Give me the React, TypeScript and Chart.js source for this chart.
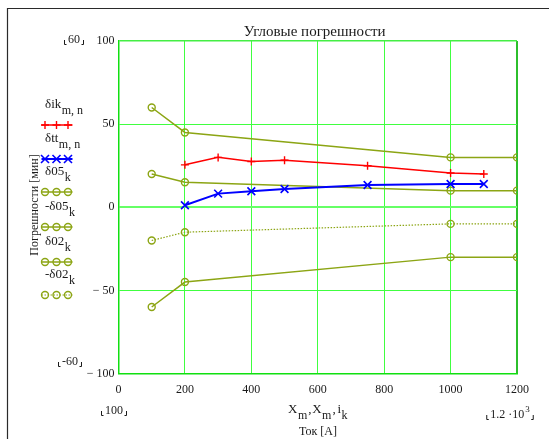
import React, { useEffect, useRef } from 'react';
import { Chart, registerables } from 'chart.js';

Chart.register(...registerables);

// ---- data ----
const measCurrents = [200, 300, 400, 500, 750, 1000, 1100];
const dIk = [25.5, 30, 27.5, 28.3, 25, 20.6, 20];
const dTt = [1.2, 8.2, 9.6, 11, 13.4, 14, 14];
const limitCurrents = [100, 200, 1000, 1200];
const d05Upper = [60, 45, 30, 30];
const d05Lower = [-60, -45, -30, -30];
const d02Upper = [20, 15, 10, 10];
const d02Lower = [-20, -15, -10, -10];
const xTicks = [0, 200, 400, 600, 800, 1000, 1200];
const yTicks = [-100, -50, 0, 50, 100];

const SERIF = '"Liberation Serif", "Times New Roman", serif';
const RED = '#ff0000';
const BLUE = '#0000ff';
const OLIVE = '#8ca514';
const TEXT = '#1a1a1a';

type LegendItem = { main: string; sub: string; color: string; kind: 'plus' | 'x' | 'circle'; dotted?: boolean; width: number };
const legendItems: LegendItem[] = [
  { main: 'δik', sub: 'm, n', color: RED, kind: 'plus', width: 1.5 },
  { main: 'δtt', sub: 'm, n', color: BLUE, kind: 'x', width: 2 },
  { main: 'δ05', sub: 'k', color: OLIVE, kind: 'circle', width: 1.5 },
  { main: '-δ05', sub: 'k', color: OLIVE, kind: 'circle', width: 1.5 },
  { main: 'δ02', sub: 'k', color: OLIVE, kind: 'circle', width: 1.5 },
  { main: '-δ02', sub: 'k', color: OLIVE, kind: 'circle', dotted: true, width: 1.2 },
];

function pts(xs: number[], ys: number[]) {
  return xs.map((x, i) => ({ x, y: ys[i] }));
}

function drawMarker(ctx: CanvasRenderingContext2D, kind: string, x: number, y: number, color: string) {
  ctx.save();
  ctx.strokeStyle = color;
  ctx.lineWidth = kind === 'x' ? 1.6 : 1.4;
  ctx.beginPath();
  if (kind === 'plus') {
    ctx.moveTo(x - 4, y); ctx.lineTo(x + 4, y);
    ctx.moveTo(x, y - 4); ctx.lineTo(x, y + 4);
  } else if (kind === 'x') {
    ctx.moveTo(x - 4, y - 4); ctx.lineTo(x + 4, y + 4);
    ctx.moveTo(x + 4, y - 4); ctx.lineTo(x - 4, y + 4);
  } else {
    ctx.arc(x, y, 3.5, 0, Math.PI * 2);
  }
  ctx.stroke();
  ctx.restore();
}

function textWithSub(ctx: CanvasRenderingContext2D, x: number, y: number, main: string, sub: string, size = 13) {
  ctx.font = `${size}px ${SERIF}`;
  ctx.fillText(main, x, y);
  const w = ctx.measureText(main).width;
  ctx.font = `${size - 1}px ${SERIF}`;
  ctx.fillText(sub, x + w + 0.5, y + 6);
  return w + 0.5 + ctx.measureText(sub).width;
}

function rangeLabel(ctx: CanvasRenderingContext2D, cx: number, baseline: number, text: string, sup?: string) {
  ctx.font = `12px ${SERIF}`;
  const w1 = ctx.measureText(text).width;
  ctx.font = `9px ${SERIF}`;
  const w2 = sup ? ctx.measureText(sup).width + 1 : 0;
  const w = w1 + w2;
  const x0 = cx - w / 2;
  ctx.textAlign = 'left';
  ctx.font = `12px ${SERIF}`;
  ctx.fillText(text, x0, baseline);
  if (sup) {
    ctx.font = `9px ${SERIF}`;
    ctx.fillText(sup, x0 + w1 + 1, baseline - 6);
  }
  ctx.save();
  ctx.strokeStyle = TEXT;
  ctx.lineWidth = 1;
  ctx.beginPath();
  const l = x0 - 3.5;
  ctx.moveTo(l, baseline - 3); ctx.lineTo(l, baseline + 1.5); ctx.lineTo(l + 2, baseline + 1.5);
  const r = x0 + w + 3.5;
  ctx.moveTo(r - 2, baseline + 1.5); ctx.lineTo(r, baseline + 1.5); ctx.lineTo(r, baseline - 3);
  ctx.stroke();
  ctx.restore();
}

const decorPlugin = {
  id: 'decor',
  afterDraw(chart: any) {
    const ctx: CanvasRenderingContext2D = chart.ctx;
    const area = chart.chartArea;
    ctx.save();
    // outer frame
    ctx.strokeStyle = '#2a2a2a';
    ctx.lineWidth = 1.2;
    ctx.beginPath();
    ctx.moveTo(7.5, 439);
    ctx.lineTo(7.5, 8.5);
    ctx.lineTo(549, 8.5);
    ctx.stroke();

    ctx.fillStyle = TEXT;
    ctx.textBaseline = 'alphabetic';

    // title
    ctx.font = `15px ${SERIF}`;
    ctx.textAlign = 'center';
    ctx.fillText('Угловые погрешности', (area.left + area.right) / 2 - 3, 36);

    // y axis title
    ctx.save();
    ctx.translate(38, 205);
    ctx.rotate(-Math.PI / 2);
    ctx.font = `12px ${SERIF}`;
    ctx.textAlign = 'center';
    ctx.fillText('Погрешности [мин]', 0, 0);
    ctx.restore();

    // x axis titles
    ctx.textAlign = 'left';
    const by = 413;
    let x = 288;
    x += textWithSub(ctx, x, by, 'X', 'm');
    ctx.font = `13px ${SERIF}`;
    ctx.fillText(',', x + 1, by); x += 5;
    x += textWithSub(ctx, x, by, 'X', 'm');
    ctx.font = `13px ${SERIF}`;
    ctx.fillText(',', x + 1, by); x += 5;
    textWithSub(ctx, x + 1, by, 'i', 'k');
    ctx.font = `12px ${SERIF}`;
    ctx.textAlign = 'center';
    ctx.fillText('Ток [А]', 318, 435);

    // range labels
    rangeLabel(ctx, 74, 43, '60');
    rangeLabel(ctx, 70, 365, '-60');
    rangeLabel(ctx, 114, 414, '100');
    rangeLabel(ctx, 510, 418, '1.2 ·10', '3');

    // legend
    const markerYs = [125, 159, 192, 227, 262, 295];
    legendItems.forEach((it, i) => {
      const my = markerYs[i];
      ctx.fillStyle = TEXT;
      ctx.textAlign = 'left';
      textWithSub(ctx, 45, my - 17, it.main, it.sub);
      ctx.save();
      ctx.strokeStyle = it.color;
      ctx.lineWidth = it.width;
      if (it.dotted) ctx.setLineDash([1.5, 1.5]);
      ctx.beginPath();
      ctx.moveTo(41.5, my);
      ctx.lineTo(72.5, my);
      ctx.stroke();
      ctx.restore();
      [45, 56.5, 68].forEach((mx) => drawMarker(ctx, it.kind, mx, my, it.color));
    });
    ctx.restore();
  },
};

export default function App() {
  const ref = useRef<HTMLCanvasElement | null>(null);
  useEffect(() => {
    if (!ref.current) return;
    const olive = (data: number[], dotted = false) => ({
      data: pts(limitCurrents, data),
      showLine: true,
      borderColor: OLIVE,
      backgroundColor: 'rgba(0,0,0,0)',
      borderWidth: dotted ? 1.2 : 1.5,
      borderDash: dotted ? [1.5, 1.5] : [],
      pointStyle: 'circle',
      pointRadius: 3.5,
      pointBorderWidth: 1.4,
      pointBorderColor: OLIVE,
      pointBackgroundColor: 'rgba(0,0,0,0)',
    });
    const chart = new Chart(ref.current, {
      type: 'scatter',
      data: {
        datasets: [
          {
            label: 'δik',
            data: pts(measCurrents, dIk),
            showLine: true,
            borderColor: RED,
            borderWidth: 1.5,
            pointStyle: 'cross',
            pointRadius: 4,
            pointBorderWidth: 1.4,
            pointBorderColor: RED,
          },
          {
            label: 'δtt',
            data: pts(measCurrents, dTt),
            showLine: true,
            borderColor: BLUE,
            borderWidth: 2,
            pointStyle: 'crossRot',
            pointRadius: 5.5,
            pointBorderWidth: 1.6,
            pointBorderColor: BLUE,
          },
          { label: 'δ05', ...olive(d05Upper) },
          { label: '-δ05', ...olive(d05Lower) },
          { label: 'δ02', ...olive(d02Upper) },
          { label: '-δ02', ...olive(d02Lower, true) },
        ] as any,
      },
      options: {
        animation: false,
        responsive: false,
        devicePixelRatio: 1,
        layout: { padding: { left: 78.5, right: 32, top: 41, bottom: 35.5 } },
        plugins: { legend: { display: false }, title: { display: false }, tooltip: { enabled: false } },
        scales: {
          x: {
            type: 'linear',
            min: 0,
            max: 1200,
            afterBuildTicks: (s: any) => { s.ticks = xTicks.map((v) => ({ value: v })); },
            afterFit: (s: any) => { s.height = 30; },
            ticks: {
              padding: 9,
              color: TEXT,
              font: { family: SERIF, size: 12 },
              maxRotation: 0,
              autoSkip: false,
              callback: (v: any) => String(v),
            },
            grid: {
              drawTicks: false,
              color: (c: any) => (c.tick && c.tick.value === 1200 ? '#2cbf2c' : '#40ff40'),
              lineWidth: (c: any) => (c.tick && c.tick.value === 1200 ? 2 : 1),
            },
            border: { display: true, color: '#10e010', width: 1.5 },
          },
          y: {
            type: 'linear',
            min: -100,
            max: 100,
            afterBuildTicks: (s: any) => { s.ticks = yTicks.map((v) => ({ value: v })); },
            afterFit: (s: any) => { s.width = 40; },
            ticks: {
              padding: 4,
              color: TEXT,
              font: { family: SERIF, size: 12 },
              autoSkip: false,
              callback: (v: any) => (Number(v) < 0 ? '− ' + Math.abs(Number(v)) : String(v)),
            },
            grid: {
              drawTicks: false,
              color: (c: any) => {
                const v = c.tick && c.tick.value;
                if (v === 0) return '#66ff66';
                if (v === 100) return '#44ee44';
                return '#40ff40';
              },
              lineWidth: (c: any) => (c.tick && c.tick.value === 0 ? 2 : c.tick && c.tick.value === 100 ? 1.5 : 1),
            },
            border: { display: true, color: '#10e010', width: 1.5 },
          },
        },
      } as any,
      plugins: [decorPlugin],
    });
    return () => chart.destroy();
  }, []);
  return (
    <canvas
      ref={ref}
      width={549}
      height={439}
      style={{ position: 'fixed', left: 0, top: 0, width: 549, height: 439, background: '#fff' }}
    />
  );
}
